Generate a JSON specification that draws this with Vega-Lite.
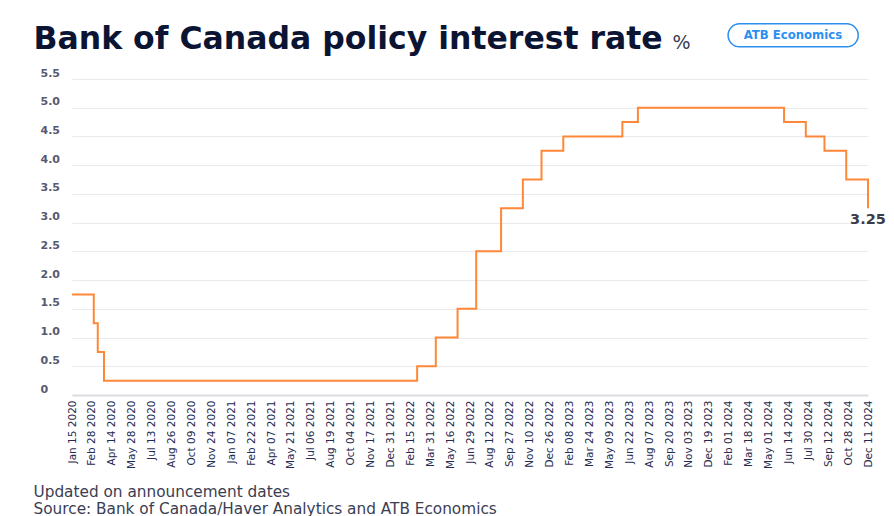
{
  "$schema": "https://vega.github.io/schema/vega-lite/v6.json",
  "width": 828,
  "height": 316,
  "autosize": {"type": "none"},
  "padding": {"left": 40, "top": 79, "right": 26, "bottom": 121},
  "background": "white",
  "config": {"view": {"stroke": null}, "font": "DejaVu Sans", "axis": {"labelOverlap": false}},
  "resolve": {"axis": {"x": "independent", "y": "independent"}},
  "data": {
    "values": [
      {"date": "2020-01-15", "rate": 1.75},
      {"date": "2020-03-04", "rate": 1.25},
      {"date": "2020-03-13", "rate": 0.75},
      {"date": "2020-03-27", "rate": 0.25},
      {"date": "2022-03-02", "rate": 0.5},
      {"date": "2022-04-13", "rate": 1.0},
      {"date": "2022-06-01", "rate": 1.5},
      {"date": "2022-07-13", "rate": 2.5},
      {"date": "2022-09-07", "rate": 3.25},
      {"date": "2022-10-26", "rate": 3.75},
      {"date": "2022-12-07", "rate": 4.25},
      {"date": "2023-01-25", "rate": 4.5},
      {"date": "2023-06-07", "rate": 4.75},
      {"date": "2023-07-12", "rate": 5.0},
      {"date": "2024-06-05", "rate": 4.75},
      {"date": "2024-07-24", "rate": 4.5},
      {"date": "2024-09-04", "rate": 4.25},
      {"date": "2024-10-23", "rate": 3.75},
      {"date": "2024-12-11", "rate": 3.25}
    ]
  },
  "layer": [
    {
      "mark": {"type": "line", "interpolate": "step-after", "color": "#ff8738", "strokeWidth": 2},
      "encoding": {
        "x": {
          "field": "date",
          "type": "temporal",
          "scale": {
            "type": "utc",
            "domain": [
              {"year": 2020, "month": 1, "date": 15, "utc": true},
              {"year": 2024, "month": 12, "date": 11, "utc": true}
            ],
            "range": [32, 828],
            "nice": false
          },
          "axis": {
            "values": [
              {"year": 2020, "month": 1, "date": 15, "utc": true},
              {"year": 2020, "month": 2, "date": 28, "utc": true},
              {"year": 2020, "month": 4, "date": 14, "utc": true},
              {"year": 2020, "month": 5, "date": 28, "utc": true},
              {"year": 2020, "month": 7, "date": 13, "utc": true},
              {"year": 2020, "month": 8, "date": 26, "utc": true},
              {"year": 2020, "month": 10, "date": 9, "utc": true},
              {"year": 2020, "month": 11, "date": 24, "utc": true},
              {"year": 2021, "month": 1, "date": 7, "utc": true},
              {"year": 2021, "month": 2, "date": 22, "utc": true},
              {"year": 2021, "month": 4, "date": 7, "utc": true},
              {"year": 2021, "month": 5, "date": 21, "utc": true},
              {"year": 2021, "month": 7, "date": 6, "utc": true},
              {"year": 2021, "month": 8, "date": 19, "utc": true},
              {"year": 2021, "month": 10, "date": 4, "utc": true},
              {"year": 2021, "month": 11, "date": 17, "utc": true},
              {"year": 2021, "month": 12, "date": 31, "utc": true},
              {"year": 2022, "month": 2, "date": 15, "utc": true},
              {"year": 2022, "month": 3, "date": 31, "utc": true},
              {"year": 2022, "month": 5, "date": 16, "utc": true},
              {"year": 2022, "month": 6, "date": 29, "utc": true},
              {"year": 2022, "month": 8, "date": 12, "utc": true},
              {"year": 2022, "month": 9, "date": 27, "utc": true},
              {"year": 2022, "month": 11, "date": 10, "utc": true},
              {"year": 2022, "month": 12, "date": 26, "utc": true},
              {"year": 2023, "month": 2, "date": 8, "utc": true},
              {"year": 2023, "month": 3, "date": 24, "utc": true},
              {"year": 2023, "month": 5, "date": 9, "utc": true},
              {"year": 2023, "month": 6, "date": 22, "utc": true},
              {"year": 2023, "month": 8, "date": 7, "utc": true},
              {"year": 2023, "month": 9, "date": 20, "utc": true},
              {"year": 2023, "month": 11, "date": 3, "utc": true},
              {"year": 2023, "month": 12, "date": 19, "utc": true},
              {"year": 2024, "month": 2, "date": 1, "utc": true},
              {"year": 2024, "month": 3, "date": 18, "utc": true},
              {"year": 2024, "month": 5, "date": 1, "utc": true},
              {"year": 2024, "month": 6, "date": 14, "utc": true},
              {"year": 2024, "month": 7, "date": 30, "utc": true},
              {"year": 2024, "month": 9, "date": 12, "utc": true},
              {"year": 2024, "month": 10, "date": 28, "utc": true},
              {"year": 2024, "month": 12, "date": 11, "utc": true}
            ],
            "labelExpr": "utcFormat(datum.value, '%b %d %Y')",
            "labelAngle": 270,
            "labelPadding": 5,
            "labelFontSize": 10.5,
            "labelColor": "#262a50",
            "labelFont": "DejaVu Sans",
            "labelOverlap": false,
            "labelBound": false,
            "ticks": false,
            "tickSize": 0,
            "grid": false,
            "domain": true,
            "domainColor": "#dcdce2",
            "domainWidth": 2,
            "title": ["Updated on announcement dates", "Source: Bank of Canada/Haver Analytics and ATB Economics"],
            "titleAnchor": "start",
            "titleAlign": "left",
            "titleBaseline": "top",
            "titleX": -7,
            "titleY": 89,
            "titleFontSize": 15.3,
            "titleFontWeight": 400,
            "titleColor": "#3b3d52",
            "titleLineHeight": 17,
            "titleFont": "DejaVu Sans"
          }
        },
        "y": {
          "field": "rate",
          "type": "quantitative",
          "scale": {"domain": [0, 5.5], "nice": false, "zero": true},
          "axis": {
            "values": [0, 0.5, 1, 1.5, 2, 2.5, 3, 3.5, 4, 4.5, 5, 5.5],
            "labelExpr": "datum.value == 0 ? '0' : format(datum.value, '.1f')",
            "labelAlign": "left",
            "labelBaseline": "alphabetic",
            "labelPadding": 0,
            "labelOffset": -3,
            "labelOverlap": false,
            "labelFontSize": 11,
            "labelFontWeight": 700,
            "labelColor": "#565a70",
            "labelFont": "DejaVu Sans",
            "ticks": false,
            "tickSize": 0,
            "domain": false,
            "grid": true,
            "gridColor": "#e9e9ee",
            "gridWidth": 1,
            "title": "%",
            "titleAngle": 0,
            "titleAlign": "left",
            "titleBaseline": "alphabetic",
            "titleX": 632,
            "titleY": -31,
            "titleFontSize": 19,
            "titleFontWeight": 400,
            "titleColor": "#3a3d52",
            "titleFont": "DejaVu Sans"
          }
        }
      }
    },
    {
      "transform": [{"filter": "year(datum.date) == 2024 && datum.rate == 3.25"}],
      "mark": {"type": "text", "align": "center", "baseline": "top", "dy": 5, "fontSize": 14.5, "fontWeight": 700, "color": "#3b3c47", "font": "DejaVu Sans"},
      "encoding": {
        "x": {
          "field": "date",
          "type": "temporal",
          "axis": {
            "orient": "top",
            "labels": false,
            "ticks": false,
            "domain": false,
            "grid": false,
            "title": "Bank of Canada policy interest rate",
            "titleAnchor": "start",
            "titleAlign": "left",
            "titleBaseline": "alphabetic",
            "titleX": -7,
            "titleY": -31,
            "titleFontSize": 31.5,
            "titleFontWeight": 700,
            "titleColor": "#0b1433",
            "titleFont": "DejaVu Sans"
          }
        },
        "y": {"field": "rate", "type": "quantitative", "axis": null},
        "text": {"field": "rate", "type": "quantitative", "format": ".2f"}
      }
    },
    {
      "data": {"values": [{"badge": "ATB Economics"}]},
      "layer": [
        {
          "mark": {"type": "rect", "fill": "white", "stroke": "#2a8ff0", "strokeWidth": 1.5, "cornerRadius": 11.5},
          "encoding": {
            "x": {"datum": {"year": 2024, "month": 1, "date": 31, "utc": true}, "type": "temporal", "axis": null},
            "x2": {"datum": {"year": 2024, "month": 11, "date": 19, "utc": true}},
            "y": {"datum": 6.46, "type": "quantitative", "axis": null},
            "y2": {"datum": 6.06}
          }
        },
        {
          "mark": {"type": "text", "align": "center", "baseline": "middle", "fontSize": 11.7, "fontWeight": 700, "color": "#2a8ff0", "font": "DejaVu Sans"},
          "encoding": {
            "x": {"datum": {"year": 2024, "month": 6, "date": 25, "utc": true}, "type": "temporal", "axis": null},
            "y": {"datum": 6.26, "type": "quantitative", "axis": null},
            "text": {"field": "badge", "type": "nominal"}
          }
        }
      ]
    }
  ]
}
